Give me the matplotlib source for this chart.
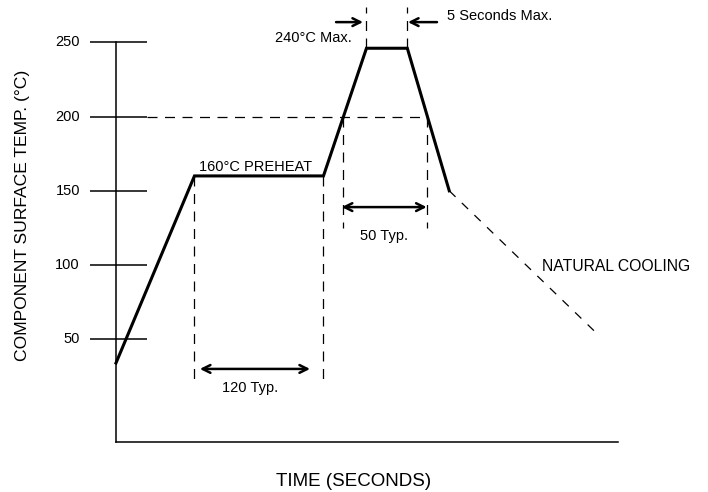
import numpy as np
import matplotlib
matplotlib.use("Agg")
import matplotlib.pyplot as plt

plt.rcParams['font.family'] = ['Liberation Sans', 'DejaVu Sans']

# schematic reflow profile (time in s, temperature in degC)
profile_t = [0, 73, 193, 233, 271, 310]
profile_T = [34, 160, 160, 246, 246, 150]
cooling_t = [310, 450]
cooling_T = [150, 52]
yticks = [50, 100, 150, 200, 250]
ytick_labels = ["50", "100", "150", "200", "250"]
axis_t = [0, 467]
axis_T = [-19, 250]
reflow_level = 200

fig = plt.figure(figsize=(7.08, 4.92), dpi=100)
ax = fig.add_axes([0, 0, 1, 1])
ax.set_xlim(-107.9, 550.7)
ax.set_ylim(-52.9, 278.5)
ax.axis("off")

# axes frame and ticks
ax.plot([axis_t[0], axis_t[0]], axis_T, color="black", lw=1.1)
ax.plot(axis_t, [axis_T[0], axis_T[0]], color="black", lw=1.1)
ax.hlines(yticks, -24, 29, color="black", lw=1.1)
for v, lab in zip(yticks, ytick_labels):
    ax.text(-33.5, v, lab, ha="right", va="center", fontsize=10.5)

# profile
ax.plot(profile_t, profile_T, color="black", lw=2.2, solid_joinstyle="miter")
ax.plot(cooling_t, cooling_T, color="black", lw=0.9, dashes=(7, 7))

# 200 degC crossings on rising / falling edges
t_up = np.interp(reflow_level, profile_T[2:4], profile_t[2:4])
t_dn = np.interp(reflow_level, profile_T[4:6][::-1], profile_t[4:6][::-1])

dash = dict(color="black", lw=0.9, dashes=(8, 6))
ax.plot([29, t_dn], [reflow_level, reflow_level], **dash)
ax.plot([t_up, t_up], [reflow_level, 125], **dash)
ax.plot([t_dn, t_dn], [reflow_level, 125], **dash)
ax.plot([profile_t[1], profile_t[1]], [profile_T[1], 22.6], **dash)
ax.plot([profile_t[2], profile_t[2]], [profile_T[2], 22.6], **dash)
ax.plot([profile_t[3], profile_t[3]], [profile_T[3], 273.7], **dash)
ax.plot([profile_t[4], profile_t[4]], [profile_T[4], 273.7], **dash)

arrow = dict(arrowstyle="<->", lw=1.8, mutation_scale=14, shrinkA=0, shrinkB=0, color="black")
one = dict(arrowstyle="->", lw=1.8, mutation_scale=14, shrinkA=0, shrinkB=0, color="black")
ax.annotate("", xy=(180.5, 30), xytext=(78, 30), arrowprops=arrow)
ax.annotate("", xy=(289, 139), xytext=(210, 139), arrowprops=arrow)
ax.annotate("", xy=(229.8, 263.6), xytext=(204.7, 263.6), arrowprops=one)
ax.annotate("", xy=(271.6, 263.6), xytext=(298.6, 263.6), arrowprops=one)

# labels
ax.text(130, 166, "160°C PREHEAT", ha="center", va="center", fontsize=10.5)
ax.text(219.5, 252.9, "240°C Max.", ha="right", va="center", fontsize=10.5)
ax.text(308, 268, "5 Seconds Max.", ha="left", va="center", fontsize=10.5)
ax.text(124.7, 17.2, "120 Typ.", ha="center", va="center", fontsize=10.5)
ax.text(249.5, 119.5, "50 Typ.", ha="center", va="center", fontsize=10.5)
ax.text(396, 98.7, "NATURAL COOLING", ha="left", va="center", fontsize=11.3)
ax.text(-87.4, 133.7, "COMPONENT SURFACE TEMP. (°C)", rotation=90,
        ha="center", va="center", fontsize=12.6)
ax.text(221, -46, "TIME (SECONDS)", ha="center", va="center", fontsize=13.5)

fig.savefig("out.png", dpi=100)
